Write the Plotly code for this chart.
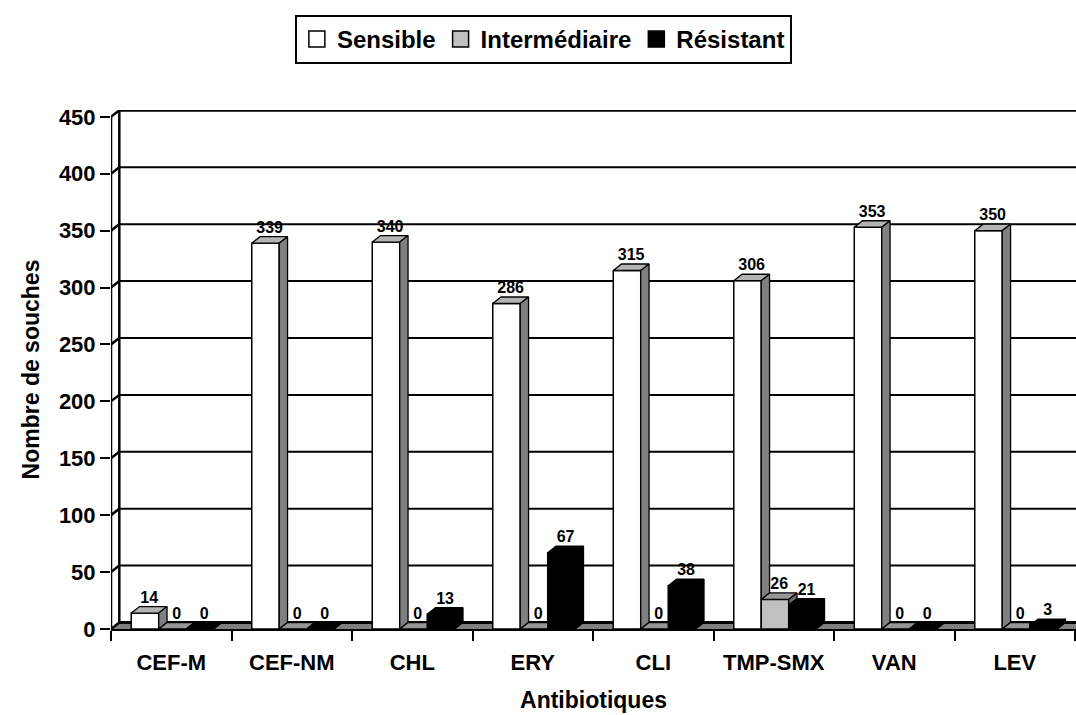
import plotly.graph_objects as go

# Antibiotic susceptibility counts per drug
categories = ["CEF-M", "CEF-NM", "CHL", "ERY", "CLI", "TMP-SMX", "VAN", "LEV"]
sensible = [14, 339, 340, 286, 315, 306, 353, 350]
intermediaire = [0, 0, 0, 0, 0, 26, 0, 0]
resistant = [0, 0, 13, 67, 38, 21, 0, 3]
series_names = ["Sensible", "Intermédiaire", "Résistant"]
y_ticks = [0, 50, 100, 150, 200, 250, 300, 350, 400, 450]

FONT = "Arial, 'Liberation Sans', sans-serif"

# (front, top, side) colours of each series' prism
face_colors = [
    ("#ffffff", "#b4b4b4", "#808080"),
    ("#c0c0c0", "#969696", "#6e6e6e"),
    ("#000000", "#000000", "#000000"),
]

BAR_W = 0.228      # width of one bar, in category units
DX = 0.069         # horizontal depth offset of the 3D look
DY = 5.7           # vertical depth offset, in value units
X_MIN = -0.5
X_MAX = 7.508
Y_MAX = 456

series = [sensible, intermediaire, resistant]
n = len(categories)
idx = list(range(n))


def left_edge(c, s):
    return c - 1.5 * BAR_W + s * BAR_W + 0.01


fig = go.Figure()

# front faces of the columns
for s, vals in enumerate(series):
    front, _, _ = face_colors[s]
    fig.add_trace(go.Bar(
        x=[left_edge(c, s) + BAR_W / 2 for c in idx],
        y=vals,
        width=BAR_W,
        name=series_names[s],
        showlegend=False,
        marker=dict(color=front, line=dict(color="black", width=1.5)),
        hoverinfo="skip",
    ))

# top and side faces of the columns
for s, vals in enumerate(series):
    _, top_c, side_c = face_colors[s]
    tx, ty, sx, sy = [], [], [], []
    for c in idx:
        v = vals[c]
        xl = left_edge(c, s)
        xr = xl + BAR_W
        nxt = series[s + 1][c] if s < len(series) - 1 else 0
        if s < len(series) - 1 and nxt > v:
            tx += [xl, xl + DX, xr, xr, xl, None]
            ty += [v, v + DY, v + DY, v, v, None]
        else:
            tx += [xl, xl + DX, xr + DX, xr, xl, None]
            ty += [v, v + DY, v + DY, v, v, None]
        base = min(v, nxt) if s < len(series) - 1 else 0
        if v > base:
            sx += [xr, xr + DX, xr + DX, xr, xr, None]
            sy += [base, base + DY, v + DY, v, base, None]
    fig.add_trace(go.Scatter(
        x=tx, y=ty, mode="lines", fill="toself", fillcolor=top_c,
        line=dict(color="black", width=1.3), showlegend=False, hoverinfo="skip",
    ))
    if sx:
        fig.add_trace(go.Scatter(
            x=sx, y=sy, mode="lines", fill="toself", fillcolor=side_c,
            line=dict(color="black", width=1.3), showlegend=False, hoverinfo="skip",
        ))

# value labels above each column
for s, vals in enumerate(series):
    fig.add_trace(go.Scatter(
        x=[left_edge(c, s) + BAR_W / 2 + DX / 2 for c in idx],
        y=[v + DY for v in vals],
        text=[str(v) for v in vals],
        mode="text",
        textposition="top center",
        textfont=dict(family=FONT, size=16, color="black", weight="bold"),
        showlegend=False, hoverinfo="skip", cliponaxis=False,
    ))

# left side wall: front axis line, back edge and connectors at each tick
wx = [X_MIN, X_MIN, None, X_MIN + DX, X_MIN + DX, None]
wy = [0, y_ticks[-1], None, DY, y_ticks[-1] + DY, None]
for v in y_ticks:
    wx += [X_MIN, X_MIN + DX, None]
    wy += [v, v + DY, None]
fig.add_trace(go.Scatter(
    x=wx, y=wy, mode="lines", line=dict(color="black", width=2.5),
    showlegend=False, hoverinfo="skip", cliponaxis=False,
))

# legend keys (square swatches)
for s, name in enumerate(series_names):
    fig.add_trace(go.Scatter(
        x=[None], y=[None], mode="markers", name=name,
        marker=dict(symbol="square", size=16, color=face_colors[s][0],
                    line=dict(color="black", width=1.5)),
    ))

shapes = []
# floor
shapes.append(dict(
    type="path", xref="x", yref="y", layer="below",
    path=f"M {X_MIN},0 L {X_MAX},0 L {X_MAX},{DY} L {X_MIN + DX},{DY} Z",
    fillcolor="#808080", line=dict(width=0),
))
# gridlines on the back wall
for v in y_ticks:
    shapes.append(dict(
        type="line", xref="x", yref="y", layer="below",
        x0=X_MIN + DX, x1=X_MAX, y0=v + DY, y1=v + DY,
        line=dict(color="black", width=3 if v in (0, y_ticks[-1]) else 2),
    ))

fig.update_layout(
    width=1076, height=715,
    margin=dict(l=111, r=0, t=110, b=86),
    paper_bgcolor="white", plot_bgcolor="white",
    barmode="overlay",
    shapes=shapes,
    font=dict(family=FONT, color="black"),
    showlegend=True,
    legend=dict(
        orientation="h", xref="container", yref="container",
        x=0.505, xanchor="center", y=0.979, yanchor="top",
        bordercolor="black", borderwidth=2, bgcolor="white",
        font=dict(family=FONT, size=24, color="black", weight="bold"),
        traceorder="normal", itemsizing="trace", itemwidth=30,
    ),
    xaxis=dict(
        range=[X_MIN, X_MAX], tickmode="array", tickvals=idx, ticktext=categories,
        ticks="outside", ticklen=0, showgrid=False, zeroline=False,
        showline=True, linecolor="black", linewidth=2,
        ticklabelstandoff=13,
        tickfont=dict(family=FONT, size=22, color="black", weight="bold"),
        minor=dict(tickmode="array", tickvals=[i - 0.5 for i in range(n + 1)],
                   ticks="outside", ticklen=10, tickwidth=2, tickcolor="black"),
        title=dict(text="Antibiotiques", standoff=17,
                   font=dict(family=FONT, size=23, color="black", weight="bold")),
    ),
    yaxis=dict(
        range=[0, Y_MAX], tickmode="array", tickvals=y_ticks,
        ticks="outside", ticklen=10, tickwidth=2, tickcolor="black",
        showgrid=False, zeroline=False, showline=False,
        tickfont=dict(family=FONT, size=22, color="black", weight="bold"),
        title=dict(text="Nombre de souches", standoff=12,
                   font=dict(family=FONT, size=23, color="black", weight="bold")),
    ),
)

fig.write_html("out.html")
